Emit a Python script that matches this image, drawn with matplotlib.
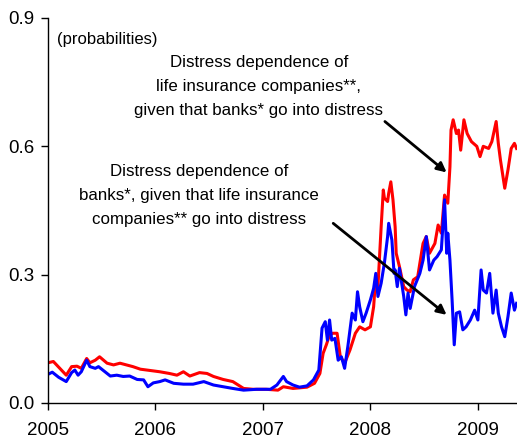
import matplotlib
matplotlib.use("Agg")
import matplotlib.pyplot as plt

plt.rcParams['font.family'] = ['Liberation Sans', 'DejaVu Sans']

# Distress dependence of life insurers, given banks in distress (red)
red_dates = [2005.00, 2005.05, 2005.11, 2005.17, 2005.22, 2005.27, 2005.31, 2005.36,
             2005.39, 2005.44, 2005.48, 2005.55, 2005.61, 2005.67, 2005.73, 2005.79,
             2005.86, 2005.95, 2006.04, 2006.13, 2006.20, 2006.26, 2006.32, 2006.41,
             2006.48, 2006.54, 2006.63, 2006.72, 2006.82, 2006.91, 2007.03, 2007.14,
             2007.19, 2007.28, 2007.41, 2007.48, 2007.53, 2007.56, 2007.59, 2007.62,
             2007.65, 2007.69, 2007.72, 2007.76, 2007.81, 2007.86, 2007.90, 2007.95,
             2008.00, 2008.03, 2008.05, 2008.07, 2008.10, 2008.12, 2008.13, 2008.16,
             2008.17, 2008.19, 2008.21, 2008.23, 2008.24, 2008.27, 2008.31, 2008.34,
             2008.37, 2008.40, 2008.44, 2008.48, 2008.49, 2008.52, 2008.55, 2008.60,
             2008.63, 2008.66, 2008.69, 2008.72, 2008.74, 2008.75, 2008.77, 2008.80,
             2008.82, 2008.84, 2008.87, 2008.90, 2008.94, 2008.99, 2009.02, 2009.05,
             2009.10, 2009.13, 2009.17, 2009.19, 2009.21, 2009.25, 2009.28, 2009.31,
             2009.34, 2009.36]
red_vals = [0.094, 0.097, 0.081, 0.065, 0.085, 0.086, 0.081, 0.104,
            0.094, 0.100, 0.108, 0.093, 0.089, 0.093, 0.089, 0.085,
            0.079, 0.076, 0.073, 0.069, 0.065, 0.073, 0.063, 0.071,
            0.069, 0.062, 0.055, 0.050, 0.034, 0.032, 0.032, 0.030,
            0.038, 0.034, 0.037, 0.046, 0.069, 0.116, 0.136, 0.159,
            0.163, 0.163, 0.108, 0.093, 0.124, 0.163, 0.178, 0.171,
            0.178, 0.225, 0.295, 0.272, 0.412, 0.498, 0.479, 0.471,
            0.490, 0.517, 0.475, 0.412, 0.350, 0.319, 0.272, 0.264,
            0.260, 0.288, 0.295, 0.358, 0.373, 0.389, 0.350, 0.373,
            0.416, 0.397, 0.486, 0.467, 0.552, 0.638, 0.662, 0.630,
            0.638, 0.591, 0.662, 0.630, 0.611, 0.600, 0.576, 0.600,
            0.595, 0.611, 0.658, 0.607, 0.568, 0.502, 0.545, 0.595,
            0.607, 0.595]

# Distress dependence of banks, given life insurers in distress (blue)
blue_dates = [2005.00, 2005.04, 2005.10, 2005.17, 2005.22, 2005.25, 2005.28, 2005.31,
              2005.36, 2005.39, 2005.44, 2005.47, 2005.53, 2005.58, 2005.64, 2005.70,
              2005.76, 2005.83, 2005.89, 2005.93, 2005.98, 2006.04, 2006.09, 2006.17,
              2006.26, 2006.35, 2006.45, 2006.54, 2006.63, 2006.72, 2006.82, 2006.94,
              2007.07, 2007.13, 2007.19, 2007.22, 2007.28, 2007.34, 2007.41, 2007.47,
              2007.52, 2007.55, 2007.58, 2007.60, 2007.62, 2007.64, 2007.67, 2007.70,
              2007.73, 2007.76, 2007.79, 2007.83, 2007.86, 2007.88, 2007.90, 2007.93,
              2007.96, 2008.00, 2008.03, 2008.05, 2008.07, 2008.10, 2008.13, 2008.16,
              2008.17, 2008.20, 2008.22, 2008.23, 2008.25, 2008.27, 2008.31, 2008.33,
              2008.35, 2008.37, 2008.41, 2008.46, 2008.49, 2008.52, 2008.55, 2008.59,
              2008.62, 2008.66, 2008.69, 2008.71, 2008.72, 2008.74, 2008.76, 2008.78,
              2008.80, 2008.83, 2008.86, 2008.89, 2008.93, 2008.97, 2009.00, 2009.03,
              2009.05, 2009.08, 2009.11, 2009.14, 2009.17, 2009.19, 2009.22, 2009.25,
              2009.28, 2009.31, 2009.34, 2009.36]
blue_vals = [0.067, 0.072, 0.060, 0.050, 0.071, 0.077, 0.065, 0.073,
             0.100, 0.085, 0.081, 0.085, 0.073, 0.063, 0.065, 0.062,
             0.063, 0.055, 0.054, 0.038, 0.047, 0.050, 0.054, 0.046,
             0.044, 0.044, 0.050, 0.042, 0.038, 0.034, 0.030, 0.032,
             0.032, 0.042, 0.062, 0.050, 0.042, 0.037, 0.040, 0.054,
             0.077, 0.175, 0.190, 0.147, 0.194, 0.147, 0.151, 0.100,
             0.108, 0.081, 0.132, 0.210, 0.194, 0.260, 0.225, 0.190,
             0.210, 0.241, 0.268, 0.303, 0.249, 0.280, 0.327, 0.389,
             0.420, 0.381, 0.303, 0.311, 0.272, 0.315, 0.249, 0.206,
             0.257, 0.221, 0.272, 0.303, 0.334, 0.389, 0.311, 0.334,
             0.342, 0.358, 0.475, 0.350, 0.397, 0.334, 0.241, 0.136,
             0.210, 0.213, 0.171, 0.178, 0.194, 0.217, 0.194, 0.311,
             0.264, 0.257, 0.303, 0.210, 0.264, 0.210, 0.178, 0.155,
             0.202, 0.257, 0.217, 0.233]

year_ticks = [2005, 2006, 2007, 2008, 2009]
value_ticks = [0.0, 0.3, 0.6, 0.9]

fig = plt.figure(figsize=(5.17, 4.41), dpi=100)
ax = fig.add_axes([0.0928, 0.0862, 0.907, 0.873])

ax.plot(red_dates, red_vals, color='#ff0000', lw=2.2)
ax.plot(blue_dates, blue_vals, color='#0000ff', lw=2.2)

ax.set_xlim(2005, 2009.363)
ax.set_ylim(0, 0.9)
ax.set_xticks(year_ticks)
ax.set_xticklabels([str(y) for y in year_ticks])
ax.set_yticks(value_ticks)
ax.set_yticklabels(['%.1f' % v for v in value_ticks])
ax.tick_params(axis='x', length=5, width=1, pad=9, labelsize=13.5)
ax.tick_params(axis='y', length=5, width=1, pad=5, labelsize=13.5)

for side in ['top', 'right']:
    ax.spines[side].set_visible(False)
for side in ['left', 'bottom']:
    ax.spines[side].set_linewidth(1.0)

ax.text(0.019, 0.943, '(probabilities)', transform=ax.transAxes,
        fontsize=12, ha='left', va='center')

ax.text(2006.963, 0.739,
        'Distress dependence of\nlife insurance companies**,\ngiven that banks* go into distress',
        fontsize=12.2, ha='center', va='center', multialignment='center', linespacing=1.75)
ax.text(2006.409, 0.486,
        'Distress dependence of\nbanks*, given that life insurance\ncompanies** go into distress',
        fontsize=12.2, ha='center', va='center', multialignment='center', linespacing=1.75)

arrow = dict(arrowstyle='-|>', color='black', lw=2, mutation_scale=14, shrinkA=0, shrinkB=0)
ax.annotate('', xy=(2008.709, 0.539), xytext=(2008.135, 0.658), arrowprops=arrow)
ax.annotate('', xy=(2008.709, 0.206), xytext=(2007.654, 0.420), arrowprops=arrow)

fig.savefig('out.png', dpi=100)
